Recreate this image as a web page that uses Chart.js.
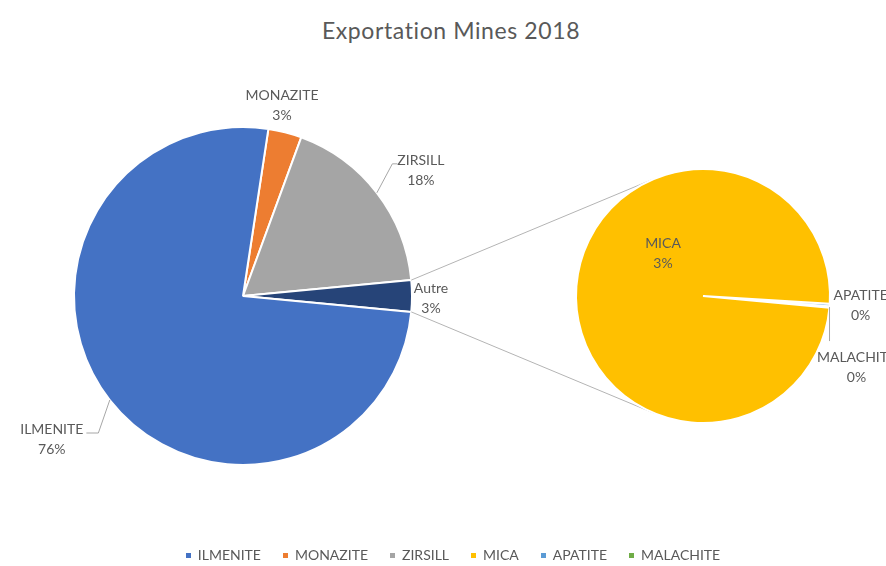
<!DOCTYPE html>
<html><head><meta charset="utf-8">
<script src="https://cdn.jsdelivr.net/npm/chart.js@4"></script>
<style>
html,body{margin:0;padding:0;background:#fff;}
#wrap{position:relative;width:886px;height:566px;overflow:hidden;font-family:Lato,'Open Sans',sans-serif;color:#595959;}
canvas{position:absolute;left:0;top:0;}
#title{position:absolute;left:0;width:902px;top:17px;text-align:center;font-size:23px;letter-spacing:0.6px;line-height:26px;}
#legend{position:absolute;left:0;width:906px;top:546px;display:flex;justify-content:center;gap:22px;font-size:14px;line-height:18px;}
.item{display:flex;align-items:center;white-space:nowrap;}
.sw{width:5px;height:5px;margin-right:7px;display:inline-block;}
</style></head>
<body><div id="wrap">
<div id="title"></div>
<canvas id="main" width="886" height="566"></canvas>
<canvas id="second" width="886" height="566"></canvas>
<div id="legend"></div>
</div>
<script>
const chartTitle = 'Exportation Mines 2018';
const categories = ['ILMENITE', 'MONAZITE', 'ZIRSILL', 'MICA', 'APATITE', 'MALACHITE'];
const shares = [75.9, 3.2, 17.9, 2.985, 0.01, 0.005];
const colors = ['#4472C4', '#ED7D31', '#A5A5A5', '#FFC000', '#5B9BD5', '#70AD47'];
const otherLabel = 'Autre';
const otherColor = '#264478';
const firstPieOrder = ['MONAZITE', 'ZIRSILL', 'Autre', 'ILMENITE'];
const secondPieOrder = ['APATITE', 'MALACHITE', 'MICA'];

const total = shares.reduce((a, b) => a + b, 0);
const valOf = n => shares[categories.indexOf(n)];
const colOf = n => colors[categories.indexOf(n)];
const otherValue = secondPieOrder.reduce((a, n) => a + valOf(n), 0);
const firstValues = firstPieOrder.map(n => n === otherLabel ? otherValue : valOf(n));
const firstColors = firstPieOrder.map(n => n === otherLabel ? otherColor : colOf(n));
const secondValues = secondPieOrder.map(valOf);
const secondColors = secondPieOrder.map(colOf);
const pct = v => Math.round(v / total * 100) + '%';

document.getElementById('title').textContent = chartTitle;
const leg = document.getElementById('legend');
categories.forEach((c, i) => {
  const it = document.createElement('div'); it.className = 'item';
  const sw = document.createElement('span'); sw.className = 'sw'; sw.style.background = colors[i];
  const tx = document.createElement('span'); tx.textContent = c;
  it.appendChild(sw); it.appendChild(tx); leg.appendChild(it);
});

// label placement (layout only)
const labelLayout = {
  MONAZITE: {dx: -3, dy: -27},
  ZIRSILL: {dx: 44, dy: -22, leader: 'elbowLeft'},
  Autre: {dx: 19, dy: 2},
  ILMENITE: {dx: -58, dy: 39, leader: 'elbowRight'},
  MICA: {fromCenter: true, dx: -40, dy: -43},
  APATITE: {dx: 31, dy: 0},
  MALACHITE: {dx: 27, dy: 60, leader: 'down'}
};
const LABEL_FONT = '14px Lato, "Open Sans", sans-serif';
const LINE_GAP = 20;

function drawLabels(chart, names, values) {
  const ctx = chart.ctx;
  const arcs = chart.getDatasetMeta(0).data;
  ctx.save();
  ctx.font = LABEL_FONT;
  ctx.fillStyle = '#595959';
  ctx.strokeStyle = '#A6A6A6';
  ctx.lineWidth = 1;
  ctx.textAlign = 'center';
  ctx.textBaseline = 'middle';
  names.forEach((n, i) => {
    const L = labelLayout[n]; if (!L) return;
    const a = arcs[i];
    const mid = (a.startAngle + a.endAngle) / 2;
    const ax = a.x + a.outerRadius * Math.cos(mid);
    const ay = a.y + a.outerRadius * Math.sin(mid);
    const bx = L.fromCenter ? a.x + L.dx : ax + L.dx;
    const by = L.fromCenter ? a.y + L.dy : ay + L.dy;
    const l1 = n, l2 = pct(values[i]);
    const y1 = by - LINE_GAP / 2, y2 = by + LINE_GAP / 2;
    const w = ctx.measureText(l1).width;
    if (L.leader === 'elbowLeft') {
      const tl = bx - w / 2;
      ctx.beginPath(); ctx.moveTo(ax, ay); ctx.lineTo(tl - 5, y1 + 3); ctx.lineTo(tl, y1 + 3); ctx.stroke();
    } else if (L.leader === 'elbowRight') {
      const tr = bx + w / 2;
      ctx.beginPath(); ctx.moveTo(ax, ay); ctx.lineTo(tr + 15, y1 + 4); ctx.lineTo(tr + 3, y1 + 4); ctx.stroke();
    } else if (L.leader === 'down') {
      ctx.beginPath(); ctx.moveTo(ax, ay); ctx.lineTo(ax, y1 - 16); ctx.stroke();
    }
    ctx.fillText(l1, bx, y1);
    ctx.fillText(l2, bx, y2);
  });
  ctx.restore();
}

const commonOptions = {
  responsive: false, devicePixelRatio: 1, animation: false,
  plugins: {legend: {display: false}, tooltip: {enabled: false}, title: {display: false}},
  events: []
};

const mainChart = new Chart(document.getElementById('main'), {
  type: 'pie',
  data: {labels: firstPieOrder, datasets: [{data: firstValues, backgroundColor: firstColors, borderColor: '#ffffff', borderWidth: 2}]},
  options: Object.assign({}, commonOptions, {
    layout: {padding: {left: 0, right: 400, top: 26, bottom: 0}},
    radius: 169,
    rotation: 90 - 360 * (firstValues[0] + firstValues[1] + firstValues[2] / 2) / total
  }),
  plugins: [{id: 'lbl1', afterDatasetsDraw(c) { drawLabels(c, firstPieOrder, firstValues); }}]
});

const connector = {
  id: 'connector',
  beforeDatasetsDraw(c) {
    const big = mainChart.getDatasetMeta(0).data[firstPieOrder.indexOf(otherLabel)];
    const small = c.getDatasetMeta(0).data[0];
    const cx = small.x, cy = small.y, r = small.outerRadius;
    const ctx = c.ctx;
    ctx.save(); ctx.strokeStyle = '#B4B4B4'; ctx.lineWidth = 1;
    [[big.startAngle, -1], [big.endAngle, 1]].forEach(([ang, sgn]) => {
      const px = big.x + big.outerRadius * Math.cos(ang);
      const py = big.y + big.outerRadius * Math.sin(ang);
      const d = Math.hypot(cx - px, cy - py);
      const th = Math.atan2(cy - py, cx - px);
      const al = Math.asin(r / d);
      const len = Math.sqrt(d * d - r * r);
      const phi = th + sgn * al;
      ctx.beginPath(); ctx.moveTo(px, py); ctx.lineTo(px + len * Math.cos(phi), py + len * Math.sin(phi)); ctx.stroke();
    });
    ctx.restore();
  },
  afterDatasetsDraw(c) { drawLabels(c, secondPieOrder, secondValues); }
};

const secondChart = new Chart(document.getElementById('second'), {
  type: 'pie',
  data: {labels: secondPieOrder, datasets: [{data: secondValues, backgroundColor: secondColors, borderColor: '#ffffff', borderWidth: 2}]},
  options: Object.assign({}, commonOptions, {
    layout: {padding: {left: 520, right: 0, top: 26, bottom: 0}},
    radius: 127,
    rotation: 93.5
  }),
  plugins: [connector]
});
</script>
</body></html>
